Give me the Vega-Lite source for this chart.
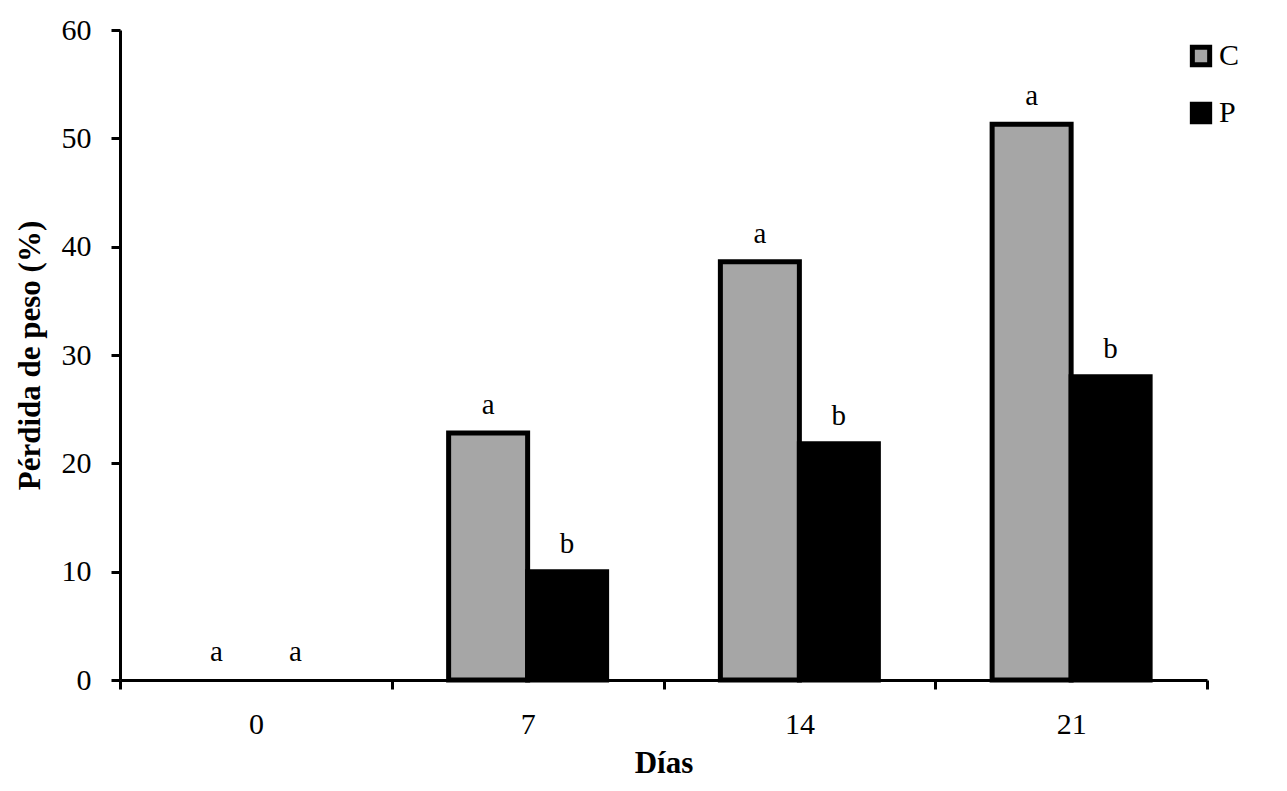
{
  "$schema": "https://vega.github.io/schema/vega-lite/v6.json",
  "width": 1087,
  "height": 650,
  "autosize": {"type": "none"},
  "padding": {"left": 120, "top": 30, "right": 80, "bottom": 111},
  "background": "white",
  "config": {
    "view": {"stroke": null},
    "font": "Liberation Serif",
    "axis": {"domainColor": "black", "domainWidth": 3, "tickColor": "black", "tickWidth": 3, "tickSize": 9, "labelColor": "black", "titleColor": "black", "labelFont": "Liberation Serif", "titleFont": "Liberation Serif", "labelFontSize": 30, "titleFontSize": 31, "grid": false}
  },
  "data": {
    "values": [
      {"dia": "0", "serie": "C", "valor": 0, "letra": "a"},
      {"dia": "0", "serie": "P", "valor": 0, "letra": "a"},
      {"dia": "7", "serie": "C", "valor": 22.8, "letra": "a"},
      {"dia": "7", "serie": "P", "valor": 10.0, "letra": "b"},
      {"dia": "14", "serie": "C", "valor": 38.6, "letra": "a"},
      {"dia": "14", "serie": "P", "valor": 21.8, "letra": "b"},
      {"dia": "21", "serie": "C", "valor": 51.3, "letra": "a"},
      {"dia": "21", "serie": "P", "valor": 28.0, "letra": "b"}
    ]
  },
  "encoding": {
    "x": {
      "field": "dia", "type": "ordinal", "sort": ["0", "7", "14", "21"],
      "scale": {"paddingInner": 0, "paddingOuter": 0},
      "axis": {"title": "Días", "titleFontWeight": "bold", "labelAngle": 0, "tickBand": "extent", "labelPadding": 20, "titlePadding": 9}
    },
    "xOffset": {"field": "serie", "type": "nominal", "sort": ["C", "P"], "scale": {"paddingInner": 0, "paddingOuter": 0.72}},
    "y": {
      "field": "valor", "type": "quantitative",
      "scale": {"domain": [0, 60], "nice": false},
      "axis": {"title": "Pérdida de peso (%)", "titleFontWeight": "bold", "values": [0, 10, 20, 30, 40, 50, 60], "labelPadding": 20, "titlePadding": 15}
    }
  },
  "layer": [
    {
      "transform": [{"filter": "datum.valor > 0"}],
      "mark": {"type": "bar", "stroke": "black", "strokeWidth": 5},
      "encoding": {
        "color": {
          "field": "serie", "type": "nominal",
          "scale": {"domain": ["C", "P"], "range": ["#A6A6A6", "#000000"]},
          "legend": {
            "title": null, "orient": "none", "legendX": 1066, "legendY": 11,
            "symbolType": "square", "symbolSize": 300, "symbolStrokeColor": "black", "symbolStrokeWidth": 5,
            "labelFontSize": 30, "labelFont": "Liberation Serif", "labelColor": "black",
            "rowPadding": 19, "padding": 0, "labelOffset": 3
          }
        }
      }
    },
    {
      "mark": {"type": "text", "baseline": "alphabetic", "dy": -19, "fontSize": 29, "color": "black", "font": "Liberation Serif"},
      "encoding": {"text": {"field": "letra"}}
    }
  ]
}
